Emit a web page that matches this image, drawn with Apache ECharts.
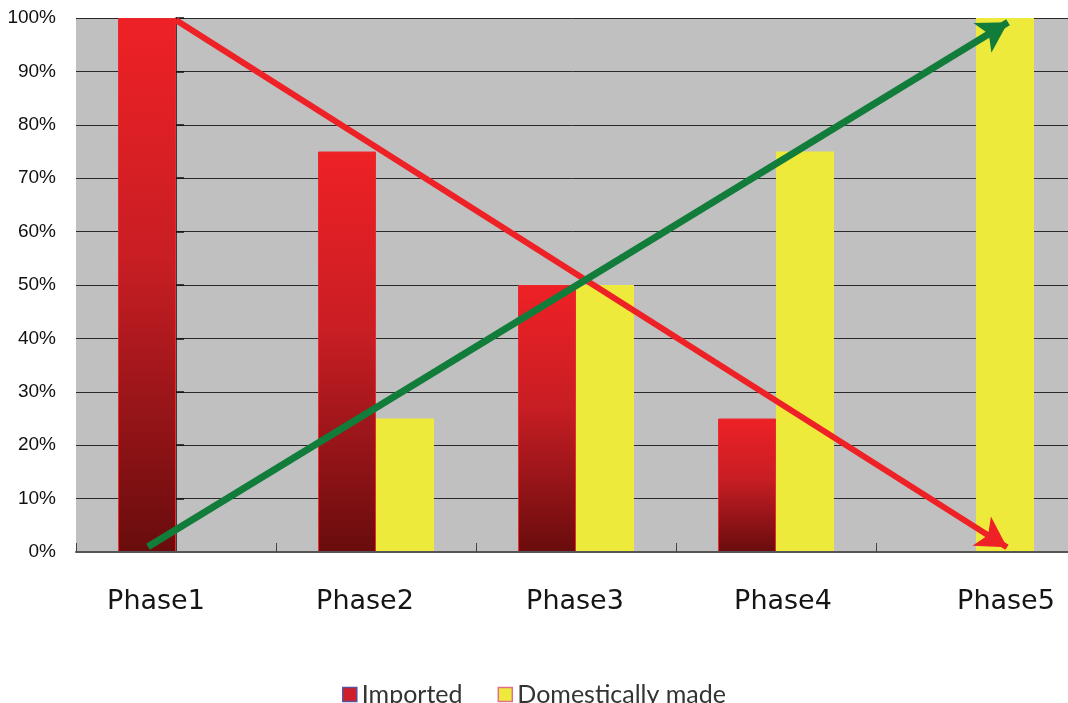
<!DOCTYPE html>
<html>
<head>
<meta charset="utf-8">
<script src="https://cdn.jsdelivr.net/npm/echarts@6/dist/echarts.min.js"></script>
<style>
  html, body { margin: 0; padding: 0; background: #ffffff; }
  #chart { width: 1068px; height: 703px; }
</style>
</head>
<body>
<div id="chart"></div>
<script>
// Share of parts by origin across the five phases
const phases = ['Phase1', 'Phase2', 'Phase3', 'Phase4', 'Phase5'];
const imported = [100, 75, 50, 25, 0];
const domestic = [0, 25, 50, 75, 100];
const yTicks = [0, 10, 20, 30, 40, 50, 60, 70, 80, 90, 100];

// Trend arrows, in category-index units (x) and percent (y)
const importedTrend = [[0, 99.6], [4.155, 0.9]];
const domesticTrend = [[-0.14, 1.0], [4.16, 99.2]];

// Horizontal nudge of each category label (px)
const labelShift = [-20, -11, -1, 7, 30];

const chart = echarts.init(document.getElementById('chart'));

const redGradient = new echarts.graphic.LinearGradient(0, 0, 0, 1, [
  { offset: 0, color: '#ee2125' },
  { offset: 0.45, color: '#c81e24' },
  { offset: 1, color: '#690c0d' }
]);

const labelRich = {};
labelShift.forEach(function (d, i) {
  labelRich['p' + i] = {
    fontFamily: '"DejaVu Sans", sans-serif',
    fontSize: 27,
    color: '#151515',
    padding: d < 0 ? [0, -2 * d, 0, 0] : [0, 0, 0, 2 * d]
  };
});

chart.setOption({
  animation: false,
  backgroundColor: '#ffffff',
  grid: {
    left: 76, top: 18, width: 1000, bottom: 151,
    containLabel: false,
    outerBoundsMode: 'none'
  },
  legend: {
    top: 677,
    left: 'center',
    itemWidth: 14,
    itemHeight: 14,
    itemGap: 35,
    textStyle: { fontFamily: 'Lato, "Open Sans", sans-serif', fontSize: 25, color: '#333333' },
    data: [
      { name: 'Imported', icon: 'rect', itemStyle: { color: '#cf1f2a', borderColor: '#5a4f9a', borderWidth: 1.5 } },
      { name: 'Domestically made', icon: 'rect', itemStyle: { color: '#eeea3c', borderColor: '#e0708a', borderWidth: 1.5 } }
    ]
  },
  xAxis: [
    {
      type: 'category',
      data: phases,
      boundaryGap: true,
      axisLine: { show: true, lineStyle: { color: '#555555', width: 2 } },
      axisTick: { show: true, inside: true, length: 9, lineStyle: { color: '#444444', width: 1 } },
      axisLabel: {
        margin: 36,
        formatter: function (v, i) { return '{p' + i + '|' + v + '}'; },
        rich: labelRich
      },
      splitLine: { show: false },
      z: 3
    },
    {
      type: 'value',
      min: -0.5,
      max: 4.5,
      show: false
    }
  ],
  yAxis: {
    type: 'value',
    min: 0,
    max: 100,
    interval: 10,
    axisLine: { show: true, lineStyle: { color: '#111111', width: 1.5 } },
    axisTick: { show: true, inside: true, length: 8, lineStyle: { color: '#111111', width: 1.5 } },
    axisLabel: {
      margin: 20,
      fontFamily: '"Liberation Sans", Arial, sans-serif',
      fontSize: 19,
      color: '#111111',
      formatter: function (v) { return yTicks.indexOf(v) >= 0 ? v + '%' : ''; }
    },
    splitLine: { show: true, lineStyle: { color: '#2a2a2a', width: 1 } },
    splitArea: { show: true, areaStyle: { color: ['#c0c0c0', '#c0c0c0'] } }
  },
  series: [
    {
      name: 'Imported',
      type: 'bar',
      data: imported,
      barWidth: 58,
      barGap: '0%',
      itemStyle: { color: redGradient, borderColor: '#ec2a2e', borderWidth: 1 },
      z: 2
    },
    {
      name: 'Domestically made',
      type: 'bar',
      data: domestic,
      barWidth: 58,
      barGap: '0%',
      itemStyle: { color: '#eeea3c' },
      z: 2
    },
    {
      name: 'importedTrend',
      type: 'line',
      xAxisIndex: 1,
      data: [],
      silent: true,
      markLine: {
        silent: true,
        symbol: ['none', 'arrow'],
        symbolSize: [26, 30],
        label: { show: false },
        lineStyle: { color: '#ee2226', width: 6, type: 'solid' },
        data: [[{ coord: importedTrend[0] }, { coord: importedTrend[1] }]]
      },
      z: 5
    },
    {
      name: 'domesticTrend',
      type: 'line',
      xAxisIndex: 1,
      data: [],
      silent: true,
      markLine: {
        silent: true,
        symbol: ['none', 'arrow'],
        symbolSize: [26, 30],
        label: { show: false },
        lineStyle: { color: '#127c3a', width: 7, type: 'solid' },
        data: [[{ coord: domesticTrend[0] }, { coord: domesticTrend[1] }]]
      },
      z: 6
    }
  ]
});
</script>
</body>
</html>
